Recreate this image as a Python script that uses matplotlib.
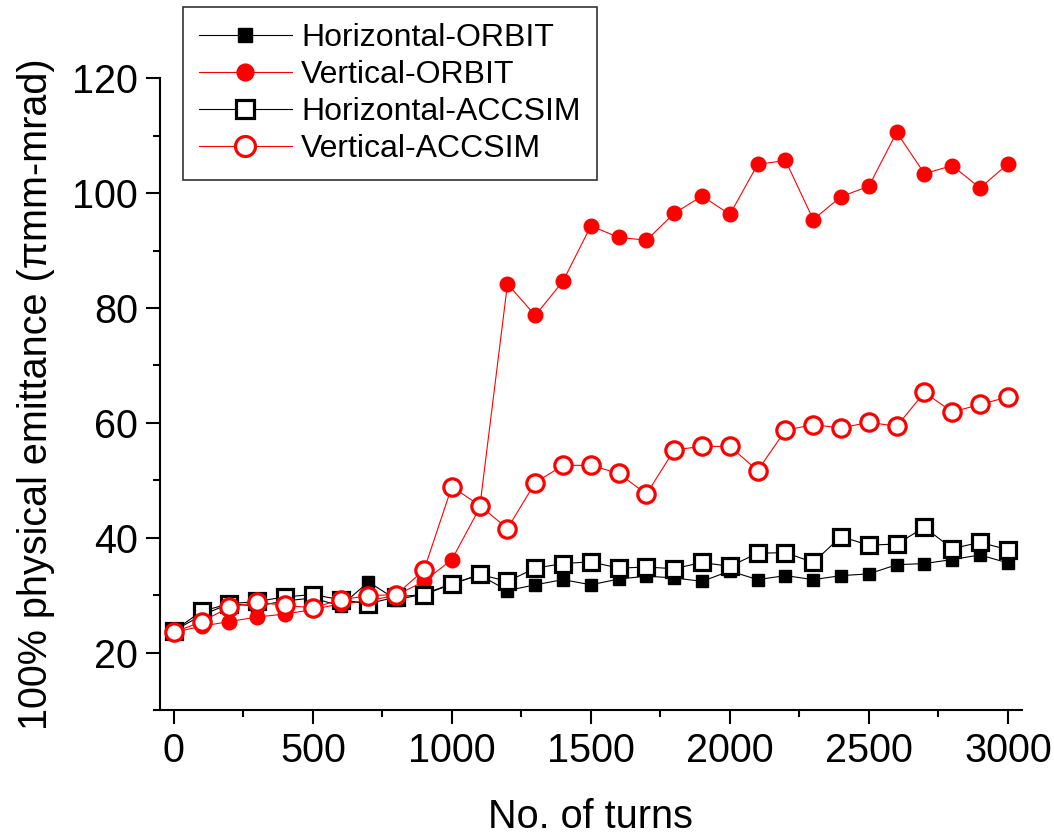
import numpy as np
import matplotlib
matplotlib.use("Agg")
import matplotlib.pyplot as plt
from matplotlib.ticker import MultipleLocator

plt.rcParams['font.family'] = ['Liberation Sans', 'DejaVu Sans']

# turns
turns = list(range(0, 3001, 100))

# emittance values
horiz_orbit = [23.8, 26.5, 28.5, 28.1, 29.0, 29.5, 28.1, 32.3, 29.2, 30.2,
               32.0, 33.5, 30.8, 31.8, 32.7, 31.8, 32.8, 33.3, 33.0, 32.4,
               34.2, 32.7, 33.4, 32.7, 33.4, 33.7, 35.3, 35.5, 36.2, 37.0,
               35.6]
vert_orbit = [23.5, 24.6, 25.4, 26.2, 26.7, 27.5, 28.5, 29.0, 30.0, 32.4,
              36.2, 45.2, 84.2, 78.7, 84.7, 94.3, 92.3, 91.8, 96.5, 99.5,
              96.3, 105.0, 105.7, 95.4, 99.4, 101.2, 110.6, 103.4, 104.8, 100.9,
              105.1]
horiz_accsim = [23.8, 27.2, 28.5, 28.9, 29.7, 30.1, 29.2, 28.5, 29.7, 30.1,
                31.9, 33.6, 32.4, 34.7, 35.5, 35.8, 34.7, 34.9, 34.6, 35.7,
                35.0, 37.3, 37.4, 35.7, 40.2, 38.7, 38.9, 41.8, 38.1, 39.2,
                37.9]
vert_accsim = [23.5, 25.4, 27.9, 28.8, 28.2, 27.8, 29.2, 29.9, 30.1, 34.4,
               48.9, 45.6, 41.6, 49.6, 52.6, 52.6, 51.2, 47.6, 55.3, 55.9,
               55.9, 51.7, 58.7, 59.7, 59.1, 60.1, 59.4, 65.3, 61.9, 63.2,
               64.5]

fig = plt.figure(figsize=(10.54, 8.34), dpi=100)
ax = fig.add_axes([0.1518, 0.1487, 0.8176, 0.7574])

lw = 0.8
ax.plot(turns, horiz_orbit, color='black', lw=lw, marker='s', ms=9,
        mfc='black', mec='black', label='Horizontal-ORBIT')
ax.plot(turns, vert_orbit, color='red', lw=lw, marker='o', ms=10.5,
        mfc='red', mec='red', label='Vertical-ORBIT')
ax.plot(turns, horiz_accsim, color='black', lw=lw, marker='s', ms=11,
        mfc='white', mec='black', mew=2.3, label='Horizontal-ACCSIM')
ax.plot(turns, vert_accsim, color='red', lw=lw, marker='o', ms=12.5,
        mfc='white', mec='red', mew=2.3, label='Vertical-ACCSIM')

ax.set_xlim(-50, 3050)
ax.set_ylim(10, 120)
ax.xaxis.set_major_locator(MultipleLocator(500))
ax.xaxis.set_minor_locator(MultipleLocator(250))
ax.yaxis.set_major_locator(MultipleLocator(20))
ax.yaxis.set_minor_locator(MultipleLocator(10))

ax.spines['top'].set_visible(False)
ax.spines['right'].set_visible(False)
for s in ['left', 'bottom']:
    ax.spines[s].set_linewidth(1.5)

ax.tick_params(which='major', direction='out', length=10, width=1.5,
               labelsize=28.5, pad=6)
ax.tick_params(which='minor', direction='out', length=5, width=1.5)

ax.set_xlabel('No. of turns', fontsize=28.5, labelpad=20)
ax.set_ylabel('100% physical emittance (\u03c0mm-mrad)', fontsize=28.5,
              labelpad=12)

leg = ax.legend(loc='upper left', bbox_to_anchor=(0.1736, 0.9916),
                bbox_transform=fig.transFigure, borderaxespad=0,
                fontsize=23, frameon=True, fancybox=False, edgecolor='black',
                handlelength=2.9, handletextpad=0.3, labelspacing=0.22,
                borderpad=0.5, markerscale=1.15)
leg.get_frame().set_linewidth(1.2)

fig.savefig('out.png', dpi=100)
